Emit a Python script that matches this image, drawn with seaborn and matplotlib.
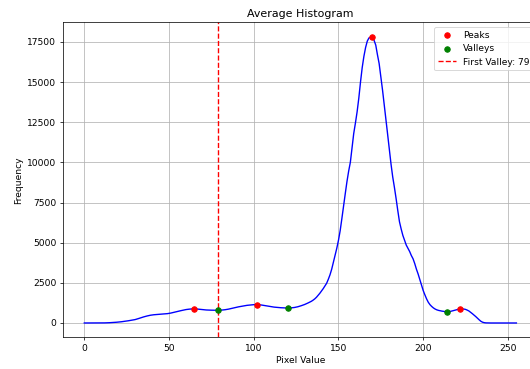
import matplotlib
matplotlib.use('Agg')
import matplotlib.pyplot as plt
import seaborn as sns
import numpy as np

# average histogram over pixel values 0..255
avg_hist = [
    0, 0, 0, 0, 0, 0, 0, 0, 0, 0,
    2, 4, 6, 8, 12, 18, 24, 30, 38, 46,
    55, 66, 78, 92, 106, 122, 138, 155, 174, 193,
    212, 242, 276, 312, 345, 378, 408, 435, 460, 482,
    500, 512, 522, 532, 541, 549, 556, 563, 571, 581,
    596, 616, 640, 665, 690, 716, 742, 767, 792, 815,
    835, 850, 862, 872, 878, 882, 876, 864, 852, 840,
    828, 818, 810, 804, 800, 797, 795, 793, 791, 790,
    795, 802, 812, 825, 840, 860, 885, 910, 935, 960,
    985, 1005, 1025, 1045, 1065, 1082, 1098, 1110, 1122, 1132,
    1140, 1146, 1150, 1142, 1128, 1110, 1090, 1070, 1050, 1032,
    1015, 1000, 988, 977, 967, 958, 950, 944, 938, 934,
    930, 933, 940, 950, 965, 985, 1010, 1040, 1075, 1110,
    1150, 1195, 1245, 1295, 1350, 1420, 1500, 1600, 1720, 1850,
    1990, 2140, 2300, 2470, 2720, 3000, 3350, 3780, 4200, 4650,
    5150, 5750, 6500, 7300, 8050, 8800, 9450, 10000, 10900, 11800,
    12450, 13150, 14000, 15000, 15900, 16600, 17150, 17550, 17750, 17790,
    17830, 17600, 17300, 16700, 16150, 15350, 14500, 13600, 12650, 11750,
    10800, 9900, 9100, 8450, 7750, 7000, 6300, 5850, 5450, 5150,
    4850, 4650, 4450, 4200, 4000, 3700, 3350, 3050, 2700, 2350,
    2020, 1750, 1500, 1290, 1140, 1030, 940, 870, 820, 785,
    760, 740, 722, 708, 700, 705, 720, 745, 775, 805,
    835, 860, 880, 876, 868, 845, 800, 745, 665, 580,
    490, 400, 300, 200, 110, 50, 20, 6, 2, 0,
    0, 0, 0, 0, 0, 0, 0, 0, 0, 0,
    0, 0, 0, 0, 0, 0,
]
pixel_values = list(range(256))
peaks = [65, 102, 170, 222]
valleys = [79, 120, 214]
first_valley = valleys[0]

hist = np.array(avg_hist)

fig = plt.figure(figsize=(530 / 66, 369 / 66), dpi=66)
ax = fig.add_axes([0.1183, 0.0859, 0.8968, 0.8537])

sns.lineplot(x=pixel_values, y=avg_hist, color='blue', ax=ax)
sns.scatterplot(x=peaks, y=hist[peaks], color='red', edgecolor='red', s=36,
                linewidth=1, label='Peaks', ax=ax, zorder=3)
sns.scatterplot(x=valleys, y=hist[valleys], color='green', edgecolor='green', s=36,
                linewidth=1, label='Valleys', ax=ax, zorder=3)
ax.axvline(first_valley, color='r', linestyle='--', label=f'First Valley: {first_valley}')

ax.set_title('Average Histogram')
ax.set_xlabel('Pixel Value')
ax.set_ylabel('Frequency')
ax.legend(loc='upper right')
ax.grid(True)

fig.savefig('out.png', dpi=66)
